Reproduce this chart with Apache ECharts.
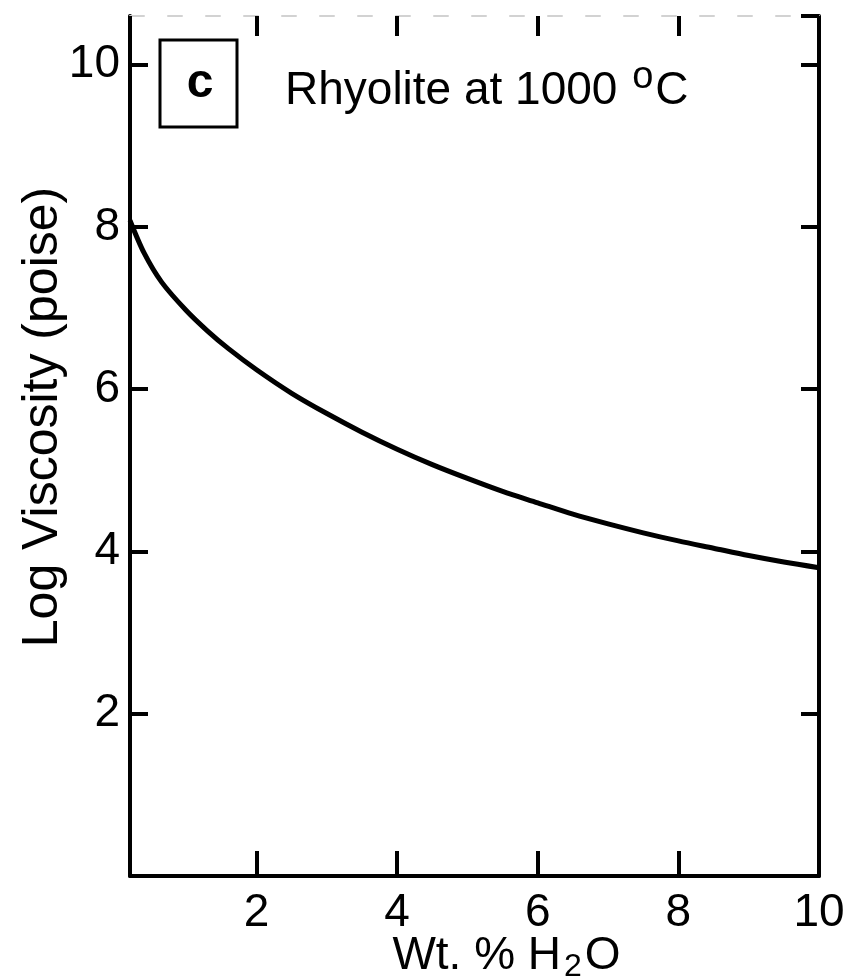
<!DOCTYPE html>
<html>
<head>
<meta charset="utf-8">
<title>Rhyolite viscosity</title>
<script src="https://cdn.jsdelivr.net/npm/echarts@6/dist/echarts.min.js"></script>
<style>
    html, body {
        margin: 0;
        padding: 0;
        background: #fff;
    }
    #chart {
        width: 867px;
        height: 977px;
    }
</style>
</head>
<body>
<div id="chart"></div>
<script>
// 数据
var waterPct = [0.2, 0.4, 0.65, 1.0, 1.3, 1.6, 2.0, 2.5, 3.0, 3.5, 4.0, 4.5, 5.0, 5.5, 6.0, 6.5, 7.0, 7.5, 8.0, 8.5, 9.0, 9.5, 10.0]
var logViscosity = [8.08, 7.68, 7.32, 6.97, 6.72, 6.5, 6.24, 5.95, 5.7, 5.47, 5.26, 5.07, 4.9, 4.74, 4.6, 4.46, 4.34, 4.23, 4.13, 4.04, 3.95, 3.87, 3.8]
var xRange = [0.2, 10]
var yRange = [0, 10.6]
var yStep = 2

var font = '"Liberation Sans", Arial, sans-serif'
var lineData = waterPct.map(function (x, i) {
    return [x, logViscosity[i]]
})

var myChart = echarts.init(document.getElementById('chart'))

//公共的坐标轴样式
function frameAxis(pos, opts) {
    return Object.assign({
        type: 'value',
        position: pos,
        axisLine: { show: true, onZero: false, lineStyle: { color: '#000', width: 4 } },
        axisTick: { show: true, inside: true, length: 20, lineStyle: { color: '#000', width: 4 } },
        axisLabel: { show: false },
        splitLine: { show: false }
    }, opts)
}

var option = {
    backgroundColor: '#fff',
    animation: false,
    grid: {
        left: 130,
        right: 48,
        top: 16,
        bottom: 101,
        outerBoundsMode: 'none'
    },
    xAxis: [
        frameAxis('bottom', {
            min: xRange[0],
            max: xRange[1],
            splitNumber: 5,
            axisTick: { show: true, inside: true, length: 25, lineStyle: { color: '#000', width: 4 } },
            axisLabel: {
                show: true,
                showMinLabel: false,
                margin: 14,
                color: '#000',
                fontFamily: font,
                fontSize: 46
            },
            name: '{a|Wt. % H}{s|2}{a|O}',
            nameLocation: 'middle',
            nameGap: 55,
            nameMoveOverlap: false,
            nameTextStyle: {
                padding: [0, 0, 0, 64],
                rich: {
                    a: { fontFamily: font, fontSize: 46, color: '#000', lineHeight: 50 },
                    s: { fontFamily: font, fontSize: 32, color: '#000', lineHeight: 50, verticalAlign: 'bottom', padding: [0, 3, -2, 3] }
                }
            }
        }),
        frameAxis('top', {
            min: xRange[0],
            max: xRange[1],
            splitNumber: 5,
            axisLine: { show: true, onZero: false, lineStyle: { color: '#d2d2d2', width: 2, type: [14, 24] } }
        })
    ],
    yAxis: [
        frameAxis('left', {
            min: yRange[0],
            max: yRange[1],
            interval: yStep,
            axisTick: { show: true, inside: true, length: 18, lineStyle: { color: '#000', width: 4 } },
            axisLabel: {
                show: true,
                showMinLabel: false,
                showMaxLabel: false,
                margin: 10,
                color: '#000',
                fontFamily: font,
                fontSize: 46
            },
            name: 'Log Viscosity (poise)',
            nameLocation: 'middle',
            nameGap: 62,
            nameMoveOverlap: false,
            nameTextStyle: {
                fontFamily: font,
                fontSize: 50,
                color: '#000',
                padding: [0, 0, 0, 58]
            }
        }),
        frameAxis('right', {
            min: yRange[0],
            max: yRange[1],
            interval: yStep,
            axisTick: { show: true, inside: true, length: 18, lineStyle: { color: '#000', width: 4 } }
        })
    ],
    graphic: [
        {
            type: 'rect',
            shape: { x: 160, y: 40, width: 77, height: 87 },
            style: { fill: '#fff', stroke: '#000', lineWidth: 3 }
        },
        {
            type: 'text',
            x: 200,
            y: 84,
            style: {
                text: 'c',
                fontFamily: font,
                fontSize: 48,
                fontWeight: 'bold',
                fill: '#000',
                align: 'center',
                verticalAlign: 'middle'
            }
        },
        {
            type: 'text',
            x: 285,
            y: 91,
            style: {
                text: '{t|Rhyolite at 1000 }{o|o}{t|C}',
                verticalAlign: 'middle',
                rich: {
                    t: { fontFamily: font, fontSize: 46, fill: '#000', lineHeight: 54 },
                    o: { fontFamily: font, fontSize: 38, fill: '#000', lineHeight: 54, padding: [0, 2, 26, 2] }
                }
            }
        }
    ],
    series: [
        {
            name: 'Rhyolite 1000',
            type: 'line',
            data: lineData,
            smooth: 0.3,
            showSymbol: false,
            clip: true,
            lineStyle: { color: '#000', width: 5 }
        }
    ]
}

myChart.setOption(option)
</script>
</body>
</html>
